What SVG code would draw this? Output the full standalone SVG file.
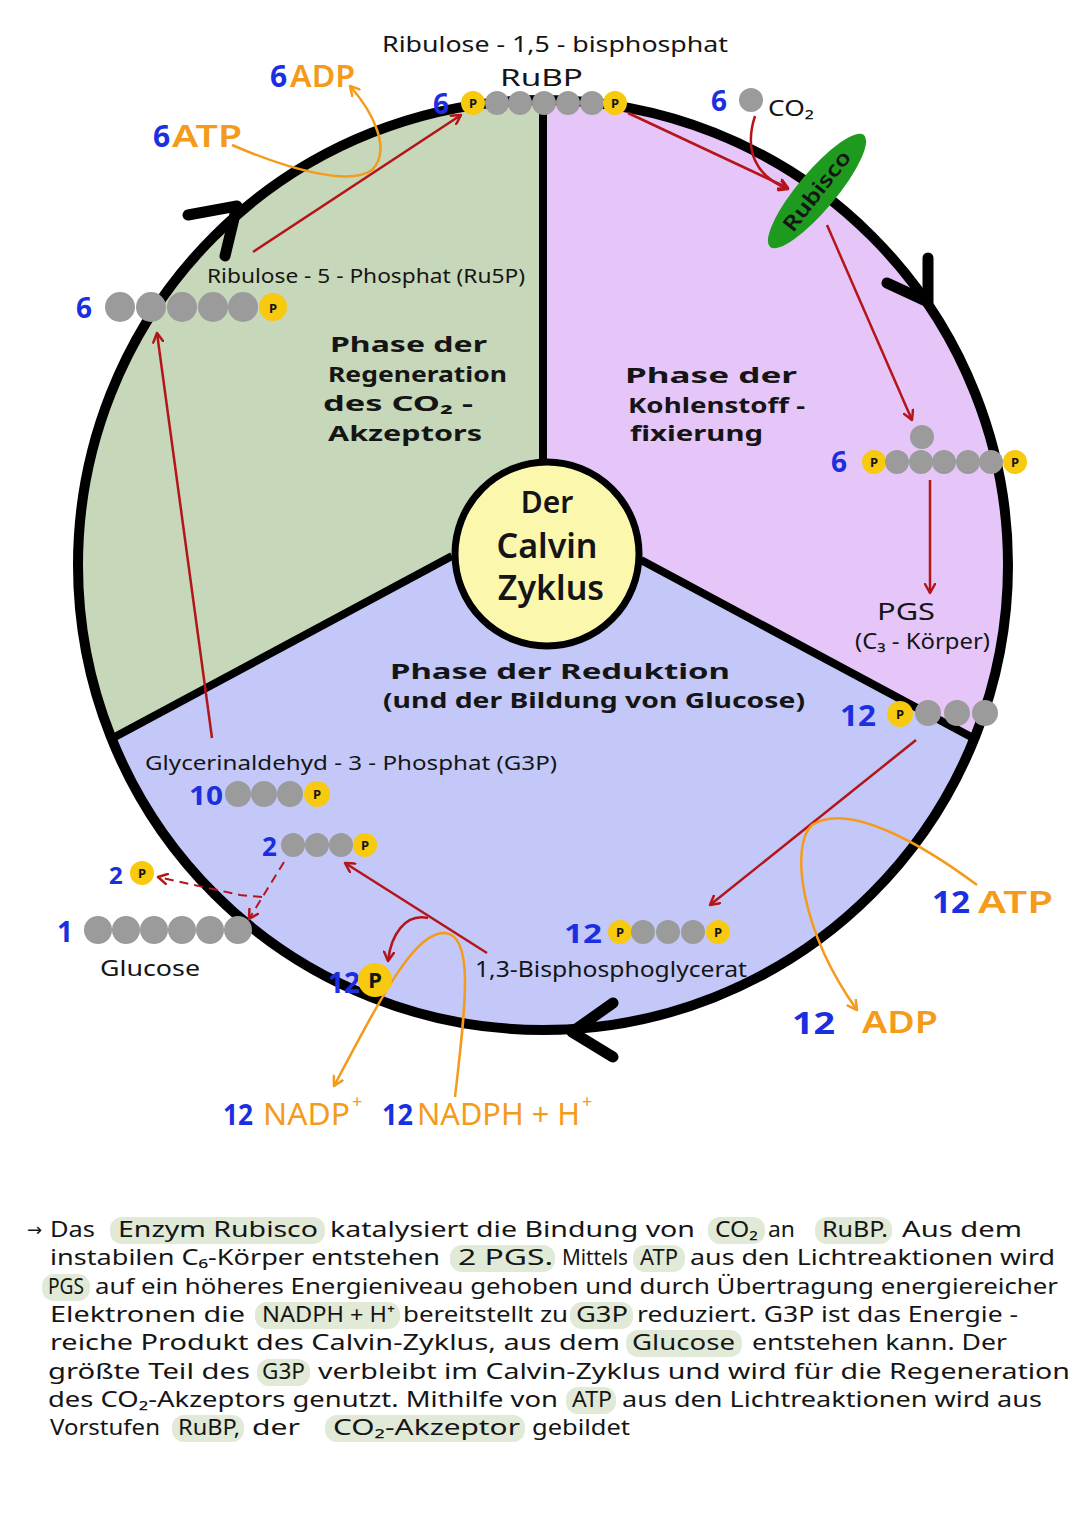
<svg xmlns="http://www.w3.org/2000/svg" width="1080" height="1527" viewBox="0 0 1080 1527">
<defs>
<style>
text{font-family:"Noto Sans","DejaVu Sans",sans-serif;fill:#151515}
.bl{fill:#1c2fe0;font-weight:700}
.or{fill:#f49b1c;font-weight:600}
.on{fill:#f49b1c}
.ph{font-weight:700;font-size:22px}
.bead{fill:#9b9b9b}
.p{fill:#f7c90f}
.pl{font-weight:700;font-size:13px;text-anchor:middle}
.red{stroke:#b3151a;stroke-width:2.5;fill:none;marker-end:url(#ar)}
.dash{stroke:#b3151a;stroke-width:2;fill:none;stroke-dasharray:9 6}
.org{stroke:#f49b1c;stroke-width:2.5;fill:none;marker-end:url(#ao)}
.chev{stroke:#000;stroke-width:11;fill:none;stroke-linecap:round;stroke-linejoin:round}
.div{stroke:#000;stroke-width:8;fill:none}
.hl{fill:#e1e9d7}
.para{font-size:22px}
</style>
<marker id="ar" viewBox="0 0 12 12" refX="10" refY="6" markerWidth="12" markerHeight="12" markerUnits="userSpaceOnUse" orient="auto"><path d="M1,1 L10,6 L1,11" fill="none" stroke="#b3151a" stroke-width="2.5" stroke-linecap="round" stroke-linejoin="round"/></marker>
<marker id="ao" viewBox="0 0 12 12" refX="10" refY="6" markerWidth="12" markerHeight="12" markerUnits="userSpaceOnUse" orient="auto"><path d="M1,1 L10,6 L1,11" fill="none" stroke="#f49b1c" stroke-width="2.5" stroke-linecap="round" stroke-linejoin="round"/></marker>
</defs>
<rect width="1080" height="1527" fill="#fff"/>

<g id="cycle">
<path d="M547,554 L543,462 L543,100 A465,465 0 0 0 111,739 L452,556 Z" fill="#c7d7ba"/>
<path d="M547,554 L543,462 L543,100 A465,465 0 0 1 975,739 L641,560 Z" fill="#e6c6f8"/>
<path d="M547,554 L452,556 L111,739 A465,465 0 0 0 975,739 L641,560 Z" fill="#c3c8f8"/>
<line class="div" x1="543" y1="100" x2="543" y2="462"/>
<line class="div" x1="452" y1="556" x2="111" y2="739"/>
<line class="div" x1="641" y1="560" x2="975" y2="739"/>
<circle cx="543" cy="565" r="465" fill="none" stroke="#000" stroke-width="10"/>
<path class="chev" d="M188,215 L237,206 L225,256"/>
<path class="chev" d="M887,283 L928,302 L928,258"/>
<path class="chev" d="M613,1003 L572,1032 L613,1057"/>
</g>

<g id="center">
<circle cx="547" cy="554" r="92" fill="#fbf8ae" stroke="#000" stroke-width="7"/>
<text x="547" y="513" font-size="30" font-weight="600" text-anchor="middle">Der</text>
<text x="547" y="558" font-size="34" font-weight="600" text-anchor="middle">Calvin</text>
<text x="551" y="600" font-size="34" font-weight="600" text-anchor="middle">Zyklus</text>
</g>

<g id="phase-labels">
<text class="ph" x="330" y="352" textLength="157" lengthAdjust="spacingAndGlyphs">Phase der</text>
<text class="ph" x="328" y="382" textLength="179" lengthAdjust="spacingAndGlyphs">Regeneration</text>
<text class="ph" x="323" y="411" textLength="150" lengthAdjust="spacingAndGlyphs">des CO₂ -</text>
<text class="ph" x="328" y="441" textLength="154" lengthAdjust="spacingAndGlyphs">Akzeptors</text>
<text class="ph" x="625" y="383" textLength="172" lengthAdjust="spacingAndGlyphs">Phase der</text>
<text class="ph" x="628" y="413" textLength="177" lengthAdjust="spacingAndGlyphs">Kohlenstoff -</text>
<text class="ph" x="630" y="441" textLength="133" lengthAdjust="spacingAndGlyphs">fixierung</text>
<text class="ph" x="390" y="679" textLength="340" lengthAdjust="spacingAndGlyphs">Phase der Reduktion</text>
<text class="ph" x="383" y="708" textLength="422" lengthAdjust="spacingAndGlyphs">(und der Bildung von Glucose)</text>
</g>

<g id="connectors">
<line class="red" x1="253" y1="252" x2="461" y2="115"/>
<line class="red" x1="212" y1="738" x2="157" y2="333"/>
<line class="red" x1="628" y1="113" x2="788" y2="188"/>
<path class="red" d="M755,116 C744,150 755,176 788,189"/>
<line class="red" x1="827" y1="225" x2="912" y2="420"/>
<line class="red" x1="930" y1="480" x2="930" y2="593"/>
<line class="red" x1="916" y1="740" x2="710" y2="905"/>
<line class="red" x1="487" y1="953" x2="345" y2="863"/>
<path class="red" d="M428,918 C405,913 391,935 388,961"/>
<path class="dash" d="M284,862 L249,919" marker-end="url(#ar)"/>
<path class="dash" d="M262,897 L240,895 L158,877" marker-end="url(#ar)"/>
<path class="org" d="M232,145 C290,170 350,186 372,170 C392,150 373,112 350,86"/>
<path class="org" d="M455,1097 C465,1010 475,935 445,933 C415,932 385,990 334,1086"/>
<path class="org" d="M977,885 C930,850 850,800 812,825 C790,845 800,930 857,1010"/>
</g>

<g id="atp-adp-top">
<text class="bl" x="270" y="87" font-size="30">6</text>
<text class="or" x="290" y="87" font-size="30" textLength="65" lengthAdjust="spacingAndGlyphs">ADP</text>
<text class="bl" x="153" y="147" font-size="30">6</text>
<text class="or" x="172" y="147" font-size="30" textLength="70" lengthAdjust="spacingAndGlyphs">ATP</text>
</g>

<g id="rubp">
<text x="382" y="52" font-size="21" textLength="346" lengthAdjust="spacingAndGlyphs">Ribulose - 1,5 - bisphosphat</text>
<text x="500" y="86" font-size="24" textLength="83" lengthAdjust="spacingAndGlyphs">RuBP</text>
<text class="bl" x="433" y="114" font-size="28">6</text>
<circle class="p" cx="473" cy="103" r="12"/><text class="pl" x="473" y="108">P</text>
<circle class="bead" cx="497" cy="103" r="12"/>
<circle class="bead" cx="520" cy="103" r="12"/>
<circle class="bead" cx="544" cy="103" r="12"/>
<circle class="bead" cx="568" cy="103" r="12"/>
<circle class="bead" cx="592" cy="103" r="12"/>
<circle class="p" cx="615" cy="103" r="12"/><text class="pl" x="615" y="108">P</text>
</g>

<g id="co2">
<text class="bl" x="711" y="111" font-size="28">6</text>
<circle class="bead" cx="751" cy="100" r="12"/>
<text x="768" y="116" font-size="22" textLength="46" lengthAdjust="spacingAndGlyphs">CO₂</text>
</g>

<g id="rubisco">
<ellipse cx="817" cy="191" rx="73" ry="19" transform="rotate(-50 817 191)" fill="#1e9a1e"/>
<text x="817" y="198" font-size="21" font-weight="600" text-anchor="middle" textLength="96" lengthAdjust="spacingAndGlyphs" transform="rotate(-52 817 191)">Rubisco</text>
</g>

<g id="c6">
<text class="bl" x="831" y="472" font-size="28">6</text>
<circle class="bead" cx="922" cy="437" r="12"/>
<circle class="p" cx="874" cy="462" r="12"/><text class="pl" x="874" y="467">P</text>
<circle class="bead" cx="897" cy="462" r="12"/>
<circle class="bead" cx="921" cy="462" r="12"/>
<circle class="bead" cx="944" cy="462" r="12"/>
<circle class="bead" cx="968" cy="462" r="12"/>
<circle class="bead" cx="991" cy="462" r="12"/>
<circle class="p" cx="1015" cy="462" r="12"/><text class="pl" x="1015" y="467">P</text>
</g>

<g id="pgs">
<text x="877" y="620" font-size="23" textLength="58" lengthAdjust="spacingAndGlyphs">PGS</text>
<text x="855" y="649" font-size="21" textLength="135" lengthAdjust="spacingAndGlyphs">(C₃ - Körper)</text>
<text class="bl" x="840" y="726" font-size="28" textLength="36" lengthAdjust="spacingAndGlyphs">12</text>
<circle class="p" cx="900" cy="714" r="13"/><text class="pl" x="900" y="719">P</text>
<circle class="bead" cx="928" cy="713" r="13"/>
<circle class="bead" cx="957" cy="713" r="13"/>
<circle class="bead" cx="985" cy="713" r="13"/>
</g>

<g id="atp-adp-bottom">
<text class="bl" x="932" y="913" font-size="30" textLength="38" lengthAdjust="spacingAndGlyphs">12</text>
<text class="or" x="978" y="913" font-size="30" textLength="75" lengthAdjust="spacingAndGlyphs">ATP</text>
<text class="bl" x="792" y="1034" font-size="30" textLength="43" lengthAdjust="spacingAndGlyphs">12</text>
<text class="or" x="862" y="1033" font-size="30" textLength="76" lengthAdjust="spacingAndGlyphs">ADP</text>
</g>

<g id="bpg">
<text class="bl" x="564" y="943" font-size="26" textLength="38" lengthAdjust="spacingAndGlyphs">12</text>
<circle class="p" cx="620" cy="932" r="12"/><text class="pl" x="620" y="937">P</text>
<circle class="bead" cx="643" cy="932" r="12"/>
<circle class="bead" cx="668" cy="932" r="12"/>
<circle class="bead" cx="693" cy="932" r="12"/>
<circle class="p" cx="718" cy="932" r="12"/><text class="pl" x="718" y="937">P</text>
<text x="475" y="977" font-size="21" textLength="272" lengthAdjust="spacingAndGlyphs">1,3-Bisphosphoglycerat</text>
</g>

<g id="p12">
<text class="bl" x="328" y="993" font-size="28" textLength="32" lengthAdjust="spacingAndGlyphs">12</text>
<circle class="p" cx="375" cy="980" r="17"/><text x="375" y="988" font-size="22" font-weight="700" text-anchor="middle">P</text>
</g>

<g id="nadp">
<text class="bl" x="223" y="1125" font-size="28" textLength="30" lengthAdjust="spacingAndGlyphs">12</text>
<text class="on" x="263" y="1125" font-size="30" textLength="87" lengthAdjust="spacingAndGlyphs">NADP</text>
<text class="on" x="352" y="1108" font-size="18">+</text>
<text class="bl" x="382" y="1125" font-size="28" textLength="31" lengthAdjust="spacingAndGlyphs">12</text>
<text class="on" x="417" y="1125" font-size="30" textLength="163" lengthAdjust="spacingAndGlyphs">NADPH + H</text>
<text class="on" x="582" y="1108" font-size="18">+</text>
</g>

<g id="g3p">
<text x="145" y="770" font-size="20" textLength="412" lengthAdjust="spacingAndGlyphs">Glycerinaldehyd - 3 - Phosphat (G3P)</text>
<text class="bl" x="189" y="805" font-size="26" textLength="34" lengthAdjust="spacingAndGlyphs">10</text>
<circle class="bead" cx="238" cy="794" r="13"/>
<circle class="bead" cx="264" cy="794" r="13"/>
<circle class="bead" cx="290" cy="794" r="13"/>
<circle class="p" cx="317" cy="794" r="13"/><text class="pl" x="317" y="799">P</text>
</g>

<g id="g3p-2">
<text class="bl" x="262" y="856" font-size="26">2</text>
<circle class="bead" cx="293" cy="845" r="12"/>
<circle class="bead" cx="317" cy="845" r="12"/>
<circle class="bead" cx="341" cy="845" r="12"/>
<circle class="p" cx="365" cy="845" r="12"/><text class="pl" x="365" y="850">P</text>
</g>

<g id="p2">
<text class="bl" x="109" y="884" font-size="24">2</text>
<circle class="p" cx="142" cy="873" r="12"/><text class="pl" x="142" y="878">P</text>
</g>

<g id="glucose">
<text class="bl" x="57" y="942" font-size="28">1</text>
<circle class="bead" cx="98" cy="930" r="14"/>
<circle class="bead" cx="126" cy="930" r="14"/>
<circle class="bead" cx="154" cy="930" r="14"/>
<circle class="bead" cx="182" cy="930" r="14"/>
<circle class="bead" cx="210" cy="930" r="14"/>
<circle class="bead" cx="238" cy="930" r="14"/>
<text x="100" y="976" font-size="22" textLength="100" lengthAdjust="spacingAndGlyphs">Glucose</text>
</g>

<g id="ru5p">
<text x="207" y="283" font-size="20" textLength="318" lengthAdjust="spacingAndGlyphs">Ribulose - 5 - Phosphat (Ru5P)</text>
<text class="bl" x="76" y="318" font-size="28">6</text>
<circle class="bead" cx="120" cy="307" r="15"/>
<circle class="bead" cx="151" cy="307" r="15"/>
<circle class="bead" cx="182" cy="307" r="15"/>
<circle class="bead" cx="213" cy="307" r="15"/>
<circle class="bead" cx="243" cy="307" r="15"/>
<circle class="p" cx="273" cy="307" r="14"/><text class="pl" x="273" y="313" font-size="16">P</text>
</g>

<g id="paragraph" class="para">
<rect class="hl" x="110" y="1217" width="215" height="27" rx="12"/>
<rect class="hl" x="708" y="1217" width="57" height="27" rx="12"/>
<rect class="hl" x="815" y="1217" width="77" height="27" rx="12"/>
<rect class="hl" x="450" y="1245" width="105" height="27" rx="12"/>
<rect class="hl" x="633" y="1245" width="52" height="27" rx="12"/>
<rect class="hl" x="42" y="1274" width="48" height="27" rx="12"/>
<rect class="hl" x="255" y="1302" width="145" height="27" rx="12"/>
<rect class="hl" x="570" y="1302" width="63" height="27" rx="12"/>
<rect class="hl" x="626" y="1330" width="116" height="27" rx="12"/>
<rect class="hl" x="257" y="1359" width="53" height="27" rx="12"/>
<rect class="hl" x="566" y="1387" width="50" height="27" rx="12"/>
<rect class="hl" x="172" y="1415" width="72" height="27" rx="12"/>
<rect class="hl" x="325" y="1415" width="200" height="27" rx="12"/>

<text x="27" y="1236" font-size="18">→</text>
<text x="50" y="1237" textLength="45" lengthAdjust="spacingAndGlyphs">Das</text>
<text x="118" y="1237" textLength="200" lengthAdjust="spacingAndGlyphs">Enzym Rubisco</text>
<text x="330" y="1237" textLength="365" lengthAdjust="spacingAndGlyphs">katalysiert die Bindung von</text>
<text x="715" y="1237" textLength="43" lengthAdjust="spacingAndGlyphs">CO₂</text>
<text x="768" y="1237" textLength="27" lengthAdjust="spacingAndGlyphs">an</text>
<text x="822" y="1237" textLength="66" lengthAdjust="spacingAndGlyphs">RuBP.</text>
<text x="902" y="1237" textLength="120" lengthAdjust="spacingAndGlyphs">Aus dem</text>

<text x="50" y="1265" textLength="390" lengthAdjust="spacingAndGlyphs">instabilen C₆-Körper entstehen</text>
<text x="458" y="1265" textLength="95" lengthAdjust="spacingAndGlyphs">2 PGS.</text>
<text x="562" y="1265" textLength="66" lengthAdjust="spacingAndGlyphs">Mittels</text>
<text x="640" y="1265" textLength="38" lengthAdjust="spacingAndGlyphs">ATP</text>
<text x="690" y="1265" textLength="365" lengthAdjust="spacingAndGlyphs">aus den Lichtreaktionen wird</text>

<text x="48" y="1294" textLength="36" lengthAdjust="spacingAndGlyphs">PGS</text>
<text x="95" y="1294" textLength="963" lengthAdjust="spacingAndGlyphs">auf ein höheres Energieniveau gehoben und durch Übertragung energiereicher</text>

<text x="50" y="1322" textLength="195" lengthAdjust="spacingAndGlyphs">Elektronen die</text>
<text x="262" y="1322" textLength="133" lengthAdjust="spacingAndGlyphs">NADPH + H⁺</text>
<text x="403" y="1322" textLength="165" lengthAdjust="spacingAndGlyphs">bereitstellt zu</text>
<text x="576" y="1322" textLength="52" lengthAdjust="spacingAndGlyphs">G3P</text>
<text x="637" y="1322" textLength="381" lengthAdjust="spacingAndGlyphs">reduziert. G3P ist das Energie -</text>

<text x="50" y="1350" textLength="570" lengthAdjust="spacingAndGlyphs">reiche Produkt des Calvin-Zyklus, aus dem</text>
<text x="632" y="1350" textLength="103" lengthAdjust="spacingAndGlyphs">Glucose</text>
<text x="752" y="1350" textLength="255" lengthAdjust="spacingAndGlyphs">entstehen kann. Der</text>

<text x="48" y="1379" textLength="202" lengthAdjust="spacingAndGlyphs">größte Teil des</text>
<text x="262" y="1379" textLength="43" lengthAdjust="spacingAndGlyphs">G3P</text>
<text x="318" y="1379" textLength="752" lengthAdjust="spacingAndGlyphs">verbleibt im Calvin-Zyklus und wird für die Regeneration</text>

<text x="48" y="1407" textLength="510" lengthAdjust="spacingAndGlyphs">des CO₂-Akzeptors genutzt. Mithilfe von</text>
<text x="572" y="1407" textLength="40" lengthAdjust="spacingAndGlyphs">ATP</text>
<text x="622" y="1407" textLength="420" lengthAdjust="spacingAndGlyphs">aus den Lichtreaktionen wird aus</text>

<text x="50" y="1435" textLength="110" lengthAdjust="spacingAndGlyphs">Vorstufen</text>
<text x="178" y="1435" textLength="62" lengthAdjust="spacingAndGlyphs">RuBP,</text>
<text x="252" y="1435" textLength="48" lengthAdjust="spacingAndGlyphs">der</text>
<text x="333" y="1435" textLength="187" lengthAdjust="spacingAndGlyphs">CO₂-Akzeptor</text>
<text x="532" y="1435" textLength="98" lengthAdjust="spacingAndGlyphs">gebildet</text>
</g>
</svg>
